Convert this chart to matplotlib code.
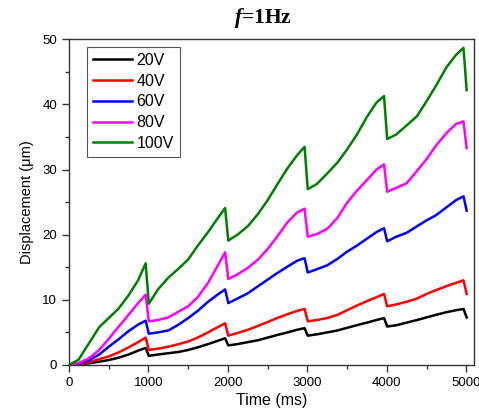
import matplotlib
matplotlib.use("Agg")
import matplotlib.pyplot as plt
from matplotlib.ticker import MultipleLocator

time_ms = [0, 120, 250, 380, 500, 620, 750, 870, 965,
           1005, 1120, 1250, 1380, 1500, 1620, 1750, 1870, 1965,
           2005, 2120, 2250, 2380, 2500, 2620, 2750, 2870, 2965,
           3005, 3120, 3250, 3380, 3500, 3620, 3750, 3870, 3965,
           4005, 4120, 4250, 4380, 4500, 4620, 4750, 4870, 4965, 5005]

v20 = [0, 0.05, 0.25, 0.5, 0.75, 1.1, 1.6, 2.2, 2.6,
       1.4, 1.6, 1.8, 2.0, 2.3, 2.7, 3.2, 3.7, 4.1,
       3.0, 3.2, 3.5, 3.8, 4.2, 4.6, 5.0, 5.4, 5.65,
       4.5, 4.7, 5.0, 5.3, 5.7, 6.1, 6.5, 6.9, 7.2,
       5.9, 6.1, 6.5, 6.9, 7.3, 7.7, 8.1, 8.4, 8.6, 7.3]

v40 = [0, 0.1, 0.4, 0.9, 1.3, 1.9, 2.7, 3.5, 4.2,
       2.3, 2.5, 2.8, 3.2, 3.6, 4.2, 5.0, 5.8, 6.4,
       4.5, 4.9, 5.4, 6.0, 6.6, 7.2, 7.8, 8.3, 8.6,
       6.7, 6.9, 7.2, 7.7, 8.4, 9.1, 9.8, 10.4, 10.9,
       9.0, 9.3, 9.7, 10.2, 10.9, 11.5, 12.1, 12.6, 13.0, 10.9]

v60 = [0, 0.2, 0.7, 1.6, 2.8, 3.9, 5.2, 6.2, 6.8,
       4.8, 5.0, 5.3, 6.2, 7.2, 8.3, 9.7, 10.8, 11.6,
       9.5, 10.2, 11.0, 12.1, 13.1, 14.1, 15.1, 16.0, 16.4,
       14.2, 14.7, 15.3, 16.3, 17.4, 18.3, 19.4, 20.4, 21.0,
       19.0, 19.7, 20.3, 21.3, 22.2, 23.0, 24.2, 25.3, 25.9, 23.7]

v80 = [0, 0.3, 1.0, 2.3, 4.0, 5.8, 7.7, 9.5, 10.8,
       6.7, 6.9, 7.3, 8.2, 9.0, 10.4, 12.6, 15.2, 17.3,
       13.2, 13.9, 14.9, 16.2, 17.8, 19.7, 21.9, 23.4, 24.0,
       19.7, 20.1, 20.9, 22.6, 24.9, 26.7, 28.4, 30.0, 30.8,
       26.6, 27.2, 27.9, 29.8, 31.6, 33.7, 35.6, 37.0, 37.4, 33.3]

v100 = [0, 0.8, 3.3, 5.8, 7.2, 8.6, 10.7, 13.0, 15.6,
        9.4, 11.6, 13.4, 14.8, 16.2, 18.3, 20.4, 22.5, 24.1,
        19.1, 20.0, 21.3, 23.2, 25.3, 27.7, 30.2, 32.2, 33.5,
        27.0, 27.8, 29.4, 31.1, 33.1, 35.3, 38.1, 40.3, 41.3,
        34.7, 35.4, 36.8, 38.2, 40.5, 42.9, 45.7, 47.6, 48.7, 42.2]

labels = ["20V", "40V", "60V", "80V", "100V"]
series = [v20, v40, v60, v80, v100]
colors = ["#000000", "#ff0000", "#0000ff", "#ff00ff", "#008000"]

plt.rcParams["font.family"] = ["Liberation Sans", "DejaVu Sans"]
plt.rcParams["mathtext.fontset"] = "custom"
plt.rcParams["mathtext.it"] = "Liberation Serif:italic:bold"
plt.rcParams["mathtext.rm"] = "Liberation Serif:bold"

fig = plt.figure(figsize=(4.79, 4.19), dpi=100)
ax = fig.add_axes([0.144, 0.129, 0.846, 0.777])

for lab, ys, c in zip(labels, series, colors):
    ax.plot(time_ms, ys, color=c, lw=1.8, label=lab, solid_joinstyle="round")

ax.set_xlim(0, 5100)
ax.set_ylim(0, 50)
ax.xaxis.set_major_locator(MultipleLocator(1000))
ax.xaxis.set_minor_locator(MultipleLocator(500))
ax.yaxis.set_major_locator(MultipleLocator(10))
ax.yaxis.set_minor_locator(MultipleLocator(5))
ax.tick_params(which="major", direction="out", length=5, width=1, labelsize=9.5, colors="#333333", labelcolor="black")
ax.tick_params(which="minor", direction="out", length=3, width=1, colors="#333333")
for s in ax.spines.values():
    s.set_color("#333333")
    s.set_linewidth(1.0)

ax.set_xlabel("Time (ms)", fontsize=11.5, labelpad=3)
ax.set_ylabel("Displacement (μm)", fontsize=10.5, labelpad=6)

leg = ax.legend(loc="upper left", bbox_to_anchor=(0.044, 0.978), borderaxespad=0,
                fontsize=11.5, handlelength=2.4, handletextpad=0.3, labelspacing=0.36,
                borderpad=0.4, fancybox=False, framealpha=1)
leg.get_frame().set_edgecolor("#555555")
leg.get_frame().set_linewidth(0.8)

fig.text(0.548, 0.956, r"$f$=1Hz", ha="center", va="center",
         fontsize=15.5, family="Liberation Serif", weight="bold")

fig.savefig("out.png", dpi=100)
